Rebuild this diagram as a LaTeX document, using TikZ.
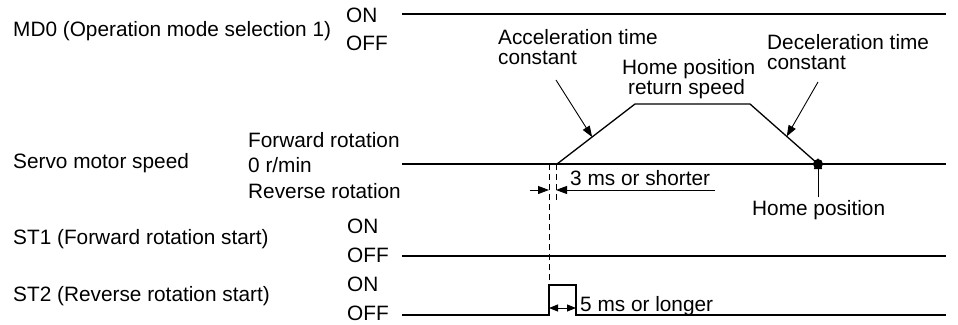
\documentclass[tikz,border=0pt]{standalone}
\usepackage{fontspec}
\setmainfont{Liberation Sans}
\usepackage{tikz}
\usetikzlibrary{arrows.meta, positioning}

\begin{document}
\begin{tikzpicture}[x=1pt, y=-1pt, >={Triangle[length=11pt, width=8pt]},
    font=\fontsize{20.8}{24}\selectfont,
    lbl/.style={anchor=base west, inner sep=0pt},
    sig/.style={line width=1.3pt},
    lead/.style={line width=0.9pt},
    guide/.style={line width=0.8pt, dash pattern=on 6pt off 4pt}]
    \useasboundingbox (0,0) rectangle (958,324);
    % Signal names
    \node[lbl] (md0) at (13,36) {MD0 (Operation mode selection 1)};
    \node[lbl] (servo) at (13,168) {Servo motor speed};
    \node[lbl] (st1) at (13,244) {ST1 (Forward rotation start)};
    \node[lbl] (st2) at (13,301) {ST2 (Reverse rotation start)};
    % Levels
    \node[lbl] (md0on) at (346,23) {ON};
    \node[lbl] (md0off) at (346,50) {OFF};
    \node[lbl] (fwd) at (248,147) {Forward rotation};
    \node[lbl] (zero) at (248,172) {0 r/min};
    \node[lbl] (rev) at (248,198) {Reverse rotation};
    \node[lbl] (st1on) at (347,233) {ON};
    \node[lbl] (st1off) at (347,262) {OFF};
    \node[lbl] (st2on) at (347,291) {ON};
    \node[lbl] (st2off) at (347,320) {OFF};
    % MD0
    \coordinate (md0a) at (402,14);
    \coordinate (md0b) at (946,14);
    \draw[sig] (md0a) -- (md0b);
    % Servo motor speed
    \coordinate (spa) at (402,164);
    \coordinate (spb) at (946,164);
    \coordinate (ramp0) at (557,164);
    \coordinate (ramp1) at (635,104);
    \coordinate (ramp2) at (750,104);
    \coordinate (home) at (818,164);
    \draw[sig] (spa) -- (spb);
    \draw[sig] (ramp0) -- coordinate[pos=0.45] (acc) (ramp1) -- (ramp2)
      -- coordinate[pos=0.54] (dec) (home);
    \fill (home) circle (5pt);
    % ST1
    \coordinate (st1a) at (402,256);
    \coordinate (st1b) at (946,256);
    \draw[sig] (st1a) -- (st1b);
    % ST2
    \coordinate (st2a) at (402,315);
    \coordinate (st2up) at (549,285);
    \coordinate (st2dn) at (576,285);
    \coordinate (st2b) at (946,315);
    \draw[sig] (st2a) -| (st2up) -- (st2dn) |- (st2b);
    % Timing guides
    \coordinate (g1) at (549,164);
    \coordinate (g2) at (556,164);
    \coordinate (g2end) at (556,202);
    \draw[guide] (g1) -- (st2up);
    \draw[guide] (g2) -- (g2end);
    \coordinate (t3a) at (530,190);
    \coordinate (t3b) at (715,190);
    \draw[lead, ->] (t3a) -- (g1 |- t3a);
    \draw[lead, ->] (t3b) -- (g2 |- t3b);
    \node[lbl] (t3) at (570,185) {3 ms or shorter};
    \coordinate (t5a) at (549,308);
    \coordinate (t5b) at (576,308);
    \draw[lead, <->, >={Triangle[length=9pt, width=7pt]}] (t5a) -- (t5b);
    \node[lbl] (t5) at (580,311) {5 ms or longer};
    % Annotations
    \node[lbl] (acc1) at (498,44) {Acceleration time};
    \node[lbl] (acc2) at (498,64) {constant};
    \node[lbl] (ret1) at (622,74) {Home position};
    \node[lbl] (ret2) at (628,94) {return speed};
    \node[lbl] (dec1) at (767,49) {Deceleration time};
    \node[lbl] (dec2) at (767,69) {constant};
    \node[lbl] (hometxt) at (752,215) {Home position};
    \coordinate (accfrom) at (556,80);
    \coordinate (decfrom) at (818,82);
    \coordinate (homefrom) at (818,197);
    \draw[lead, ->] (accfrom) -- (acc);
    \draw[lead, ->] (decfrom) -- (dec);
    \draw[lead, ->] (homefrom) -- ([yshift=6pt]home);
\end{tikzpicture}
\end{document}
